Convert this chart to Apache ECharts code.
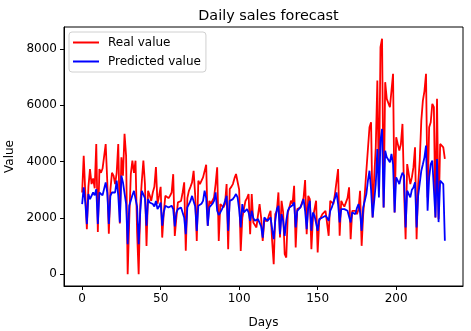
<!DOCTYPE html>
<html>
<head>
<meta charset="utf-8">
<script src="https://cdn.jsdelivr.net/npm/echarts@6/dist/echarts.min.js"></script>
<style>
  html, body { margin: 0; padding: 0; background: #fff; }
  #chart { width: 471px; height: 331px; }
</style>
</head>
<body>
<div id="chart"></div>
<script>
// Daily sales: observed values and model predictions, one value per day
const realValue = [
  2900, 4200, 4150, 1600, 3100, 3730, 3200, 3400, 3050, 4620,
  1500, 3730, 3600, 3750, 3700, 4620, 3300, 1440, 3000, 3600,
  3500, 3200, 3600, 4620, 1800, 4150, 3500, 4980, 4200, 0,
  1900, 3555, 4030, 3600, 4030, 1500, 0, 2450, 3300, 4030,
  3200, 1000, 2960, 2800, 2600, 2900, 3100, 3800, 2500, 2780,
  3100, 1300, 2200, 2785, 2800, 2700, 2785, 2900, 3550, 1360,
  2000, 2550, 2600, 2600, 2900, 3260, 830, 2700, 2960, 3100,
  3260, 3670, 2800, 1180, 3318, 3200, 3258, 3436, 3500, 3886,
  1718, 2604, 2500, 2488, 2725, 3200, 3792, 1184, 2488, 2450,
  2370, 2500, 3199, 888, 3021, 3100, 3199, 3400, 3555, 3495,
  3000, 829, 2000, 2310, 2600, 2700, 2844, 1422, 2844, 1836,
  1750, 1659, 2100, 2488, 2000, 1184, 1896, 1896, 1896, 2100,
  2251, 1185, 355, 2133, 2251, 2903, 1304, 2607, 2200, 711,
  592, 2192, 2370, 2607, 2500, 3140, 948, 2310, 2370, 2370,
  2310, 2700, 3342, 1422, 2784, 2666, 889, 2014, 2014, 2607,
  770, 1896, 2014, 2133, 2133, 2251, 2300, 1363, 2607, 2607,
  2488, 2844, 2800, 3733, 1363, 2607, 2488, 2400, 2370, 2700,
  3081, 1244, 2251, 2192, 2251, 2133, 2300, 2962, 1007, 2133,
  2844, 3673, 3733, 5214, 5392, 2014, 3436, 4504, 6874, 2962,
  8059, 8355, 2370, 6815, 6222, 6281, 5926, 5985, 7111, 2192,
  4859, 4859, 4385, 4622, 5333, 3000, 1244, 3910, 3910, 3199,
  3436, 3800, 4504, 1244, 3199, 4030, 5451, 6163, 6500, 7111,
  2725, 5214, 5392, 6044, 5926, 2014, 6222, 1955, 4622, 4622,
  4500, 4090
];

const predictedValue = [
  2490, 3080, 2545, 1780, 2843, 2665, 2700, 2900, 2800, 3020,
  1780, 2900, 2850, 2800, 2843, 3260, 2900, 1780, 2785, 2900,
  2960, 2900, 3320, 2800, 1840, 3500, 3260, 3300, 2500, 1065,
  2430, 2370, 2800, 2960, 3020, 2400, 1065, 2190, 2960, 2960,
  2700, 1720, 2665, 2545, 2500, 2490, 2400, 2600, 2310, 2400,
  2545, 1720, 2200, 2430, 2400, 2370, 2400, 2430, 2310, 1700,
  2190, 2310, 2300, 2370, 2300, 2000, 1420, 2370, 2430, 2600,
  2780, 2840, 2400, 1540, 2430, 2430, 2500, 2604, 2962, 2700,
  1718, 2370, 2430, 2500, 2604, 2903, 2251, 2100, 2192, 2300,
  2430, 2600, 2780, 1540, 2604, 2640, 2666, 2750, 2844, 2725,
  2300, 1659, 2488, 2192, 2250, 2310, 2200, 1896, 2251, 2000,
  1896, 1950, 1955, 2000, 1700, 1300, 2014, 1950, 1896, 1950,
  2014, 1600, 1244, 1896, 2310, 2429, 1422, 2133, 1900, 1363,
  1896, 2251, 2370, 2310, 2450, 2548, 1659, 2251, 2300, 2370,
  2500, 2666, 2251, 1600, 2370, 2607, 1541, 2192, 2074, 2100,
  1541, 1955, 2014, 2014, 2014, 2074, 2000, 1896, 2251, 2370,
  2548, 2700, 2903, 2488, 1837, 2310, 2310, 2310, 2280, 2251,
  2251, 1837, 2192, 2251, 2133, 2350, 2488, 2200, 1541, 2370,
  2607, 2844, 3318, 3673, 3000, 2014, 2074, 3199, 4444, 2725,
  4741, 5155, 2370, 4385, 4148, 4089, 3970, 4267, 3910, 2192,
  3436, 3318, 3199, 3436, 3600, 3500, 1659, 2962, 2903, 2725,
  3000, 3081, 3259, 1659, 2785, 2844, 3673, 3900, 4148, 4563,
  2251, 3436, 3910, 4030, 3970, 2014, 4089, 1850, 3318, 3250,
  3199, 1185
];

const xTicks = [0, 50, 100, 150, 200];
const yTicks = [0, 2000, 4000, 6000, 8000];

const seriesNames = ['Real value', 'Predicted value'];
const seriesColors = ['#ff0000', '#0000ff'];

// (day, value) pairs for each line
const toPairs = arr => arr.map((v, i) => [i, v]);

// 5% padding around the data range on both axes
const lastDay = realValue.length - 1;
const xPad = lastDay * 0.05;
const allVals = realValue.concat(predictedValue);
const yMin = Math.min(...allVals), yMax = Math.max(...allVals);
const yPad = (yMax - yMin) * 0.05;

const font = 'DejaVu Sans';
const plain = v => String(v);
const chart = echarts.init(document.getElementById('chart'), null, { renderer: 'canvas' });

chart.setOption({
  animation: false,
  backgroundColor: '#fff',
  title: {
    text: 'Daily sales forecast',
    left: 263.5,
    textAlign: 'center',
    top: 4,
    textStyle: { fontFamily: font, fontSize: 14.4, fontWeight: 'normal', color: '#000' }
  },
  legend: {
    data: seriesNames,
    orient: 'vertical',
    left: 69,
    top: 32,
    padding: [4, 5, 4, 4],
    itemGap: 6,
    itemWidth: 26,
    itemHeight: 2,
    icon: 'rect',
    backgroundColor: '#fff',
    borderColor: '#d0d0d0',
    borderWidth: 1,
    borderRadius: 3,
    textStyle: { fontFamily: font, fontSize: 12, color: '#000', padding: [0, 0, 0, 4], lineHeight: 13 }
  },
  grid: {
    left: 64, right: 8, top: 27, bottom: 45,
    containLabel: false,
    outerBoundsMode: 'none',
    show: true, borderColor: '#000', borderWidth: 1, backgroundColor: 'transparent'
  },
  xAxis: {
    type: 'value',
    min: -xPad,
    max: lastDay + xPad,
    name: 'Days',
    nameLocation: 'middle',
    nameGap: 31,
    nameTextStyle: { fontFamily: font, fontSize: 12, color: '#000' },
    splitLine: { show: false },
    axisLine: { show: true, onZero: false, lineStyle: { color: '#000', width: 1 } },
    axisTick: { show: true, inside: false, length: 4, customValues: xTicks, lineStyle: { color: '#000' } },
    axisLabel: { customValues: xTicks, formatter: plain, margin: 7, fontFamily: font, fontSize: 12, color: '#000' }
  },
  yAxis: {
    type: 'value',
    min: yMin - yPad,
    max: yMax + yPad,
    name: 'Value',
    nameLocation: 'middle',
    nameGap: 45,
    nameRotate: 90,
    nameTextStyle: { fontFamily: font, fontSize: 12, color: '#000' },
    splitLine: { show: false },
    axisLine: { show: true, onZero: false, lineStyle: { color: '#000', width: 1 } },
    axisTick: { show: true, inside: false, length: 4, customValues: yTicks, lineStyle: { color: '#000' } },
    axisLabel: { customValues: yTicks, formatter: plain, margin: 7, fontFamily: font, fontSize: 12, color: '#000' }
  },
  series: [
    {
      name: seriesNames[0],
      type: 'line',
      data: toPairs(realValue),
      symbol: 'none',
      color: seriesColors[0],
      lineStyle: { color: seriesColors[0], width: 1.8 },
      z: 2
    },
    {
      name: seriesNames[1],
      type: 'line',
      data: toPairs(predictedValue),
      symbol: 'none',
      color: seriesColors[1],
      lineStyle: { color: seriesColors[1], width: 1.8 },
      z: 3
    }
  ]
});
</script>
</body>
</html>
